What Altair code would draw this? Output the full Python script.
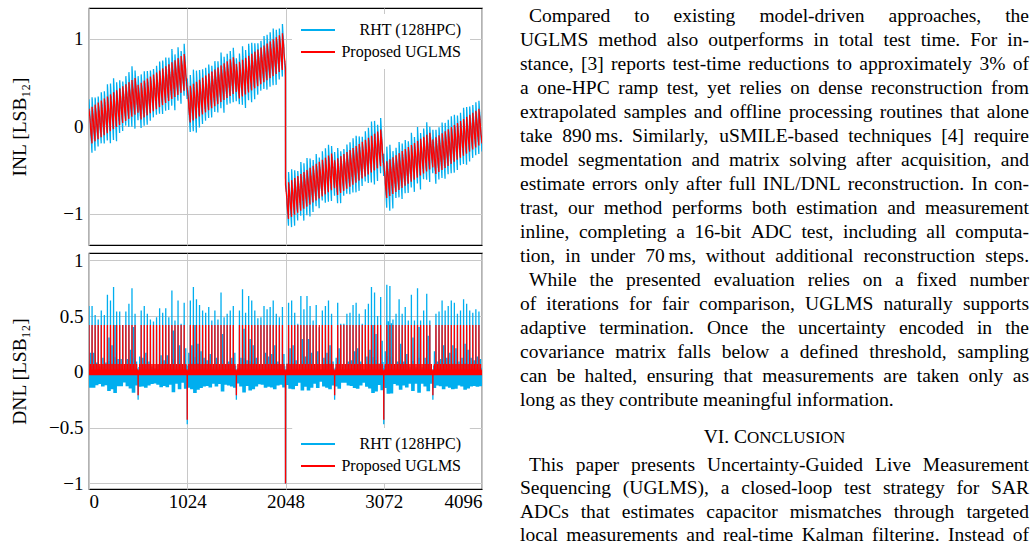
import numpy as np
import pandas as pd
import altair as alt

# ---------------------------------------------------------------- data
N_CODES = 4096
SEG = 32
SERIES = ["RHT (128HPC)", "Proposed UGLMS"]
BLUE, RED = "#00AEEF", "#FF0000"

# RHT DNL spike at the first code of every 32-code segment (LSB12)
rht_seg_peak = [
    0.59, 0.59, 0.51, 0.47, 0.55, 0.51, 0.69, 0.64, 0.76, 0.54, 0.54, 0.42, 0.54, 0.61, 0.75, 0.52,
    0.56, 0.55, 0.59, 0.52, 0.47, 0.45, 0.49, 0.57, 0.53, 0.57, 0.49, 0.73, 0.46, 0.64, 0.43, 0.62,
    0.59, 0.64, 0.76, 0.65, 0.60, 0.55, 0.53, 0.58, 0.46, 0.55, 0.47, 0.71, 0.49, 0.52, 0.55, 0.59,
    0.45, 0.55, 0.74, 0.53, 0.68, 0.64, 0.55, 0.48, 0.49, 0.59, 0.56, 0.58, 0.64, 0.52, 0.49, 0.58,
    0.50, 0.62, 0.64, 0.53, 0.43, 0.68, 0.56, 0.68, 0.59, 0.46, 0.60, 0.40, 0.55, 0.59, 0.64, 0.52,
    0.55, 0.62, 0.43, 0.43, 0.52, 0.53, 0.60, 0.62, 0.52, 0.43, 0.56, 0.61, 0.76, 0.71, 0.50, 0.67,
    0.60, 0.78, 0.77, 0.47, 0.52, 0.65, 0.52, 0.58, 0.46, 0.69, 0.46, 0.75, 0.46, 0.55, 0.70, 0.46,
    0.60, 0.52, 0.54, 0.64, 0.55, 0.59, 0.64, 0.62, 0.52, 0.55, 0.65, 0.61, 0.55, 0.53, 0.56, 0.54,
]

# Values indexed by the SAR bit that switches on at a code (0 = LSB ... 11 = MSB)
ugl_inl_step = [-0.016, -0.008, -0.012, 0.005, -0.0355, 0.42, 0.42, 0.42, 0.42, 0.32, 0.01, -1.33]
ugl_dnl = [-0.03, 0.01, -0.02, 0.02, 0.07, 0.42, 0.42, 0.42, 0.42, -0.21, -0.43, -1.00]
rht_dnl_low = [-0.08, 0.02, -0.14, 0.05, 0.16]      # bits 0..4, scaled per segment
rht_dnl_major = [-0.25, -0.47, -1.00]               # bits 9..11

x_ticks = [0, 1024, 2048, 3072, 4096]
inl_ticks = [-1, 0, 1]
dnl_ticks = [-1, -0.5, 0, 0.5, 1]

# ------------------------------------------------------- per-code series
codes = np.arange(N_CODES)
low_bit = codes & -codes
order = np.where(codes > 0, np.log2(np.maximum(low_bit, 1)).astype(int), 5)
seg = codes // SEG
peak = np.asarray(rht_seg_peak)[seg]

dnl_u = np.asarray(ugl_dnl)[order]
dnl_r = np.empty(N_CODES)
m_low = order < 5
m_mid = (order >= 5) & (order <= 8)
m_hi = order >= 9
# in-segment RHT deviations grow with the segment's spike height
spread = (peak - 0.38) / 0.2
low_vals = np.asarray(rht_dnl_low)[np.minimum(order, 4)]
scale_low = np.where(low_vals > 0, spread ** 1.5, 0.6 + 0.4 * spread)
dnl_r[m_low] = (low_vals * scale_low)[m_low]
dnl_r[m_mid] = peak[m_mid]
dnl_r[m_hi] = np.asarray(rht_dnl_major)[order[m_hi] - 9]

steps = np.asarray(ugl_inl_step)[order]
steps[0] = 0.0
inl = np.cumsum(steps)
seg_mean = inl.reshape(-1, SEG).mean(axis=1)
centres = np.arange(N_CODES // SEG) * SEG + (SEG - 1) / 2
slope = (seg_mean[-1] - seg_mean[0]) / (centres[-1] - centres[0])
inl_u = inl - (seg_mean[0] + slope * (codes - centres[0]))
local_mean = inl_u.reshape(-1, SEG).mean(axis=1)[seg]
gain = 0.6 + 1.6 * peak
inl_r = inl_u + (gain - 1.0) * (inl_u - local_mean)

inl_df = pd.DataFrame({
    "code": np.concatenate([codes, codes]),
    "value": np.concatenate([inl_r, inl_u]),
    "series": [SERIES[0]] * N_CODES + [SERIES[1]] * N_CODES,
})
dnl_df = pd.DataFrame({
    "code": np.concatenate([codes, codes]),
    "value": np.concatenate([dnl_r, dnl_u]),
    "series": [SERIES[0]] * N_CODES + [SERIES[1]] * N_CODES,
})

# ------------------------------------------------------------ text column
body_lines = [
    ("Compared to existing model-driven approaches, the", True, True),
    ("UGLMS method also outperforms in total test time. For in-", False, True),
    ("stance, [3] reports test-time reductions to approximately 3% of", False, True),
    ("a one-HPC ramp test, yet relies on dense reconstruction from", False, True),
    ("extrapolated samples and offline processing routines that alone", False, True),
    ("take 890\u2009ms. Similarly, uSMILE-based techniques [4] require", False, True),
    ("model segmentation and matrix solving after acquisition, and", False, True),
    ("estimate errors only after full INL/DNL reconstruction. In con-", False, True),
    ("trast, our method performs both estimation and measurement", False, True),
    ("inline, completing a 16-bit ADC test, including all computa-", False, True),
    ("tion, in under 70\u2009ms, without additional reconstruction steps.", False, True),
    ("While the presented evaluation relies on a fixed number", True, True),
    ("of iterations for fair comparison, UGLMS naturally supports", False, True),
    ("adaptive termination. Once the uncertainty encoded in the", False, True),
    ("covariance matrix falls below a defined threshold, sampling", False, True),
    ("can be halted, ensuring that measurements are taken only as", False, True),
    ("long as they contribute meaningful information.", False, False),
]
conclusion_lines = [
    ("This paper presents Uncertainty-Guided Live Measurement", True, True),
    ("Sequencing (UGLMS), a closed-loop test strategy for SAR", False, True),
    ("ADCs that estimates capacitor mismatches through targeted", False, True),
    ("local measurements and real-time Kalman filtering. Instead of", False, True),
]
heading_parts = ["VI. C", "ONCLUSION"]

# layout of the text column (page pixels)
PLOT_X0, PLOT_Y0 = 88, 6
TEXT_SIZE, SC_SIZE = 19.5, 17
COL_LEFT, COL_INDENT, COL_RIGHT = 519, 528, 1028
BODY_Y0, LINE_STEP = 14, 24
HEAD_Y, CONC_Y0, CONC_STEP = 435, 463, 23.5
BASE_SHIFT = 5.5

_W = {}
for chars, w in [(" ,.", 250), ("ijlt:;/", 278), ("frI()[]-", 333), ("sJ", 389),
                 ("acez?", 444), ("bdghknopquvxy0123456789", 500), ("FPS", 556),
                 ("ELTZ", 611), ("BCR", 667), ("ADGHKNOQUVXYw", 722), ("m", 778),
                 ("%", 833), ("M", 889), ("W", 944), ("\u2009", 167)]:
    for ch in chars:
        _W[ch] = w


def text_width(s, size):
    return sum(_W.get(ch, 500) for ch in s) * size / 1000.0


word_rows = []


def set_line(text, indent, justify, yc):
    words = text.split(" ")
    x0 = COL_INDENT if indent else COL_LEFT
    widths = [text_width(w, TEXT_SIZE) for w in words]
    gap = (COL_RIGHT - x0 - sum(widths)) / (len(words) - 1) if justify else 0.25 * TEXT_SIZE
    x = x0
    for k, (w, wd) in enumerate(zip(words, widths)):
        last = justify and k == len(words) - 1
        word_rows.append({
            "word": w,
            "px": (COL_RIGHT if last else x) - PLOT_X0,
            "py": yc + BASE_SHIFT - PLOT_Y0,
            "fs": TEXT_SIZE,
            "anchor": "right" if last else "left",
        })
        x += wd + gap


for i, (t, ind, jus) in enumerate(body_lines):
    set_line(t, ind, jus, BODY_Y0 + i * LINE_STEP)
for i, (t, ind, jus) in enumerate(conclusion_lines):
    set_line(t, ind, jus, CONC_Y0 + i * CONC_STEP)

w_big = text_width(heading_parts[0], TEXT_SIZE)
w_small = text_width(heading_parts[1], SC_SIZE)
hx = (COL_LEFT + COL_RIGHT) / 2 - (w_big + w_small) / 2
word_rows.append({"word": heading_parts[0], "px": hx - PLOT_X0, "py": HEAD_Y + BASE_SHIFT - PLOT_Y0,
                  "fs": TEXT_SIZE, "anchor": "left"})
word_rows.append({"word": heading_parts[1], "px": hx + w_big - PLOT_X0, "py": HEAD_Y + BASE_SHIFT - PLOT_Y0,
                  "fs": SC_SIZE, "anchor": "left"})
words_df = pd.DataFrame(word_rows)

# ---------------------------------------------------------------- chart
FONT = "Liberation Serif"
W, H_TOP, H_BOT = 393, 237, 236
color_scale = alt.Scale(domain=SERIES, range=[BLUE, RED])


def make_legend(ly):
    return alt.Legend(
        title=None, orient="none", legendX=203, legendY=ly,
        symbolType="stroke", symbolSize=1156, symbolStrokeWidth=2,
        labelFont=FONT, labelFontSize=16, labelColor="black",
        labelAlign="right", labelOffset=125, labelLimit=400,
        clipHeight=16, fillColor="white", strokeColor="white", padding=8, rowPadding=6,
    )


def panel(df, ydom, yvals, yfmt, ytitle, x_labels, legend, height):
    x = alt.X("code:Q", scale=alt.Scale(domain=[0, N_CODES], nice=False, zero=False),
              axis=alt.Axis(values=x_ticks, labels=x_labels, format="d", title=None,
                            grid=True, ticks=False, domain=False, labelPadding=3))
    y = alt.Y("value:Q", scale=alt.Scale(domain=ydom, nice=False, zero=False),
              axis=alt.Axis(values=yvals, format=yfmt, title=ytitle, grid=True, ticks=False,
                            domain=False, labelPadding=6, titleX=-70, titleY=height / 2,
                            titleAngle=-90, titleBaseline="middle", titleAlign="center"))
    c = alt.Color("series:N", scale=color_scale, legend=legend)
    base = alt.Chart(df)
    blue = base.transform_filter(alt.datum.series == SERIES[0]).mark_line(
        strokeWidth=1.3, clip=True).encode(x=x, y=y, color=c)
    red = base.transform_filter(alt.datum.series == SERIES[1]).mark_line(
        strokeWidth=1.3, clip=True).encode(x=x, y=y, color=c)
    return alt.layer(blue, red).properties(width=W, height=height)


top_lines = panel(inl_df, [-1.36, 1.35], inl_ticks, "~f", "INL [LSB\u2081\u2082]", False,
                  make_legend(6), H_TOP)
bot_lines = panel(dnl_df, [-1.05, 1.065], dnl_ticks, ".1~f", "DNL [LSB\u2081\u2082]", True,
                  make_legend(175), H_BOT)

words = alt.Chart(words_df)
text_left = words.transform_filter(alt.datum.anchor == "left").mark_text(
    align="left", baseline="alphabetic", font=FONT, color="black").encode(
    x=alt.X("px:Q", scale=None), y=alt.Y("py:Q", scale=None),
    text="word:N", size=alt.Size("fs:Q", scale=None))
text_right = words.transform_filter(alt.datum.anchor == "right").mark_text(
    align="right", baseline="alphabetic", font=FONT, color="black").encode(
    x=alt.X("px:Q", scale=None), y=alt.Y("py:Q", scale=None),
    text="word:N", size=alt.Size("fs:Q", scale=None))

top = alt.layer(top_lines, text_left, text_right).resolve_scale(x="independent", y="independent")

chart = alt.VConcatChart(vconcat=[top, bot_lines], spacing=8, bounds="flush").resolve_scale(
    color="independent").resolve_legend(color="independent").properties(
    padding={"left": 8, "top": 4, "right": 0, "bottom": 0},
    background="white",
).configure_axis(
    labelFont=FONT, labelFontSize=19, labelColor="black",
    titleFont=FONT, titleFontSize=19.5, titleFontWeight="normal", titleColor="black",
    gridColor="#c8c8c8", gridWidth=1,
).configure_view(stroke="black", strokeWidth=1.2)

chart.save("out.html", embed_options={"renderer": "svg", "actions": False})
